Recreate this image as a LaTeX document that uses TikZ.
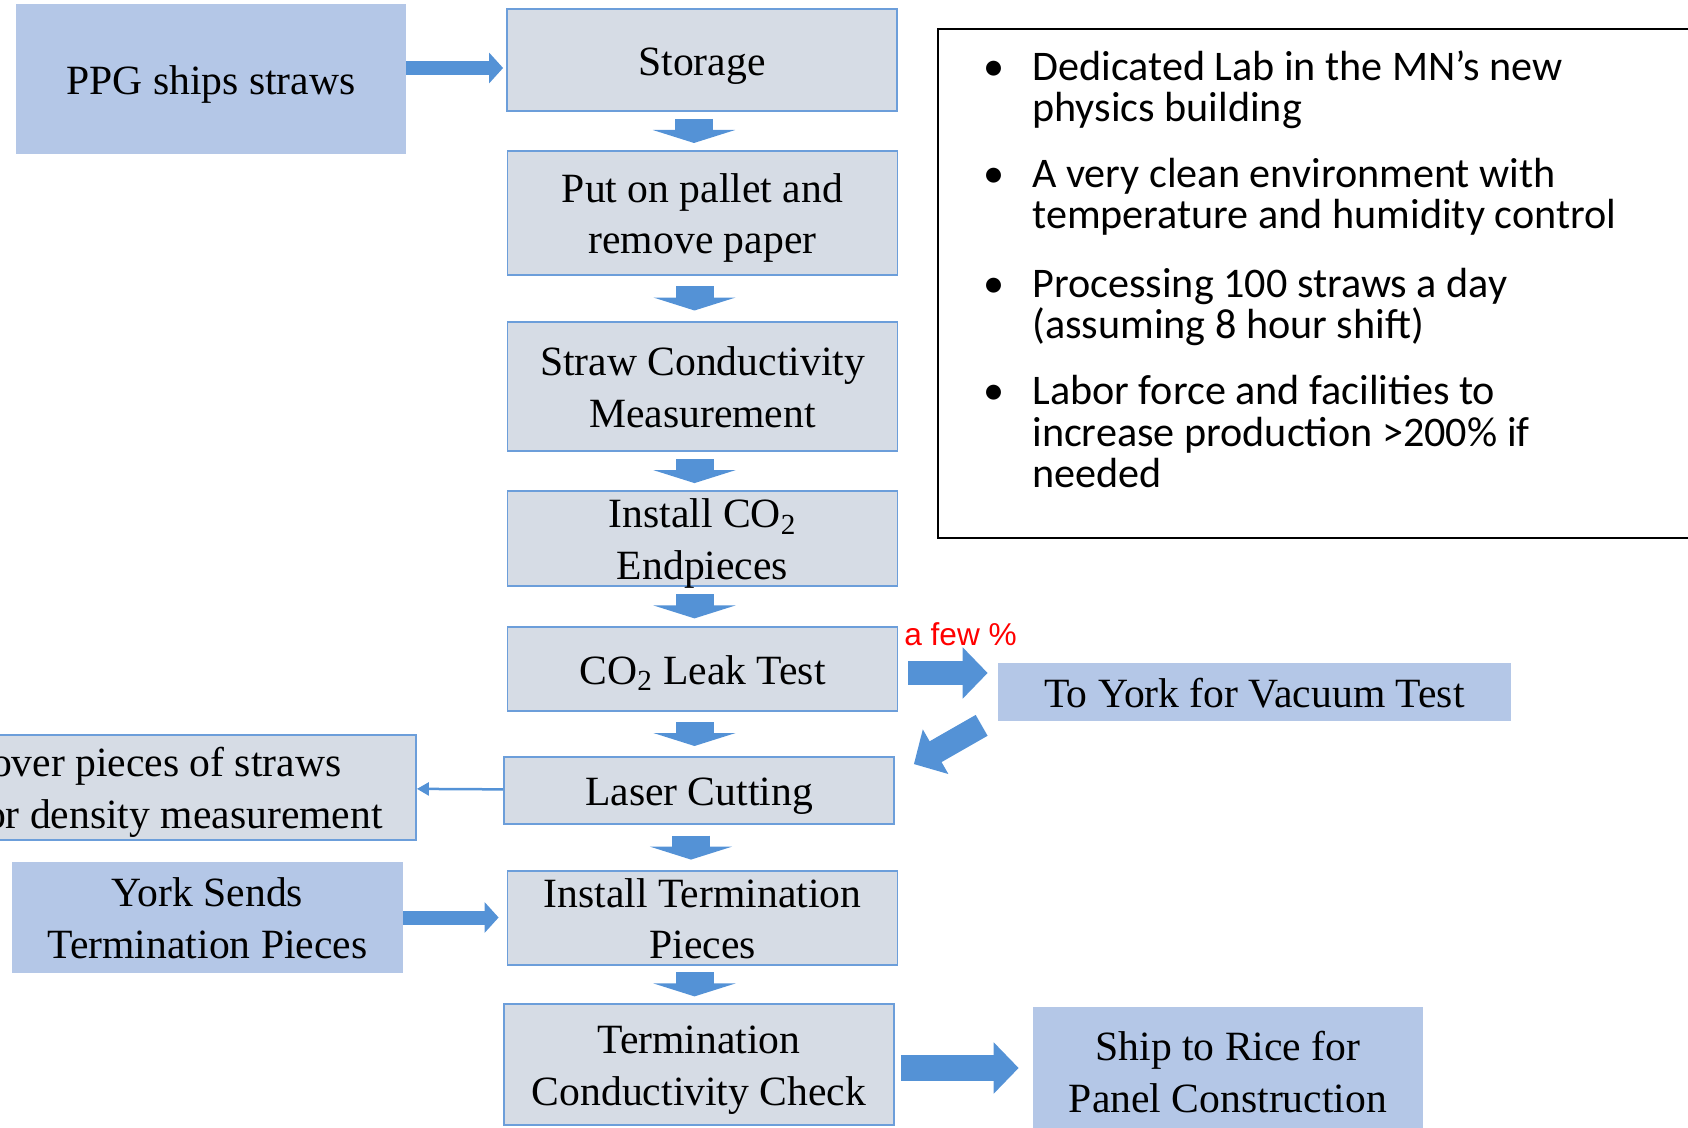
\documentclass[tikz,border=0pt]{standalone}
\usepackage{fontspec}
\setmainfont{Liberation Serif}
\newfontfamily\bulletfont{Carlito}
\newfontfamily\redfont{Liberation Sans}
\usetikzlibrary{positioning,calc,arrows.meta}
\newlength{\px}\setlength{\px}{0.02cm}
\definecolor{boxfill}{RGB}{214,220,229}
\definecolor{boxline}{RGB}{108,158,218}
\definecolor{sidefill}{RGB}{180,199,231}
\definecolor{arrblue}{RGB}{84,146,214}
\newcommand{\boxfont}{\fontsize{23.7}{29.4}\selectfont}
\newcommand{\ppstrut}{\rule[-0.216em]{0pt}{1.156em}}
\tikzset{stepbox/.style={draw=boxline, line width=1.8\px, fill=boxfill, minimum width=390\px, inner sep=0pt, align=center, font=\boxfont,
    execute at begin node=\ppstrut, execute at end node=\ppstrut}}
\tikzset{sidebox/.style={fill=sidefill, inner sep=0pt, align=center, font=\boxfont,
    execute at begin node=\ppstrut, execute at end node=\ppstrut}}
\tikzset{bulletitem/.style={anchor=base west, align=left, inner sep=0pt, font=\bulletfont\fontsize{24}{23.8}\selectfont}}
\tikzset{fewpct/.style={text=red, inner sep=0pt, font=\redfont\fontsize{18}{21}\selectfont}}
% arrow tips in cm (1px = 0.02cm)
\tikzset{downarr/.style={draw=arrblue, line width=38\px, -{Triangle[width=1.64cm,length=0.26cm]}}}
\tikzset{bigarr/.style={draw=arrblue, line width=24\px, -{Triangle[width=1.0cm,length=0.5cm]}}}
\tikzset{smallarr/.style={draw=arrblue, line width=14\px, -{Triangle[width=0.6cm,length=0.28cm]}}}
\tikzset{thinarr/.style={draw=arrblue, line width=2.5\px, -{Triangle[width=0.26cm,length=0.24cm]}}}

\begin{document}
\begin{tikzpicture}[x=0.02cm, y=-0.02cm]
    \useasboundingbox (0,0) rectangle (1688,1128);
    % main column
    \node[stepbox, minimum height=102\px] (storage) at (702,60) {Storage};
    \node[stepbox, minimum height=124\px] (pallet) at (702.5,213) {\ppstrut Put on pallet and\\remove paper};
    \node[stepbox, minimum height=129\px] (cond) at (702.5,386.5) {\ppstrut Straw Conductivity\\Measurement};
    \node[stepbox, inner ysep=-2.6\px] (endp) at (702.5,538.5) {\ppstrut Install CO\textsubscript{2}\\Endpieces};
    \node[stepbox, minimum height=84\px] (leak) at (702.5,669) {CO\textsubscript{2} Leak Test};
    \node[stepbox, minimum height=67\px] (laser) at (699,790.5) {Laser Cutting};
    \node[stepbox, inner ysep=-3.1\px] (term) at (702.5,918) {\ppstrut Install Termination\\Pieces};
    \node[stepbox, minimum height=121\px] (check) at (699,1064.5) {\ppstrut Termination\\Conductivity Check};
    % side boxes
    \node[sidebox, minimum width=390\px, minimum height=150\px] (ppg) at (211,79) {PPG ships straws};
    \node[sidebox, minimum width=513\px, minimum height=58\px] (york) at (1254.5,692) {To York for Vacuum Test};
    \node[stepbox, text width=417\px, align=flush left, inner xsep=29\px, minimum height=105\px] (leftover) at (178.5,787.5)
        {\ppstrut\hspace*{21\px}over pieces of straws\\\hspace*{15\px}or density measurement};
    \node[sidebox, minimum width=391\px, minimum height=111\px] (sends) at (207.5,917.5) {\ppstrut York Sends\\Termination Pieces};
    \node[sidebox, minimum width=390\px, minimum height=129\px] (ship) at (1228,1071.5) {\ppstrut Ship to Rice for\\Panel Construction};
    % notes (base = last line)
    \draw[line width=1.3\px] (938,29) rectangle (1700,538);
    \node[bulletitem] (b1) at (1032,122) {\llap{•\hspace{28\px}}Dedicated Lab in the MN’s new\\physics building};
    \node[bulletitem] (b2) at (1032,229) {\llap{•\hspace{28\px}}A very clean environment with\\temperature and humidity control};
    \node[bulletitem] (b3) at (1032,339) {\llap{•\hspace{28\px}}Processing 100 straws a day\\(assuming 8 hour shift)};
    \node[bulletitem] (b4) at (1032,488) {\llap{•\hspace{28\px}}Labor force and facilities to\\increase production >200\% if\\needed};
    % arrows
    \foreach \a/\b in {storage/pallet, pallet/cond, cond/endp, endp/leak, leak/laser, laser/term, term/check}
        \draw[downarr] ($(\a.south)!.5!(\a.south |- \b.north) + (-8,-12)$) -- ++(0,24);
    \draw[smallarr, shorten >=3\px] ([yshift=11\px]ppg.east) -- ([yshift=11\px]ppg.east -| storage.west);
    \draw[smallarr, shorten >=8\px] (sends.east) -- (sends.east -| term.west);
    \draw[bigarr, shorten <=10\px, shorten >=10\px] ([yshift=-4\px]leak.east) --
        node[fewpct, above=15\px, xshift=12.5\px] {a few \%} ([yshift=-4\px]leak.east -| york.west);
    \draw[bigarr] ([xshift=-16\px,yshift=-4\px]york.south west) -- ([xshift=19\px,yshift=-8\px]laser.north east);
    \draw[thinarr] (laser) -- (leftover);
    \draw[bigarr, line width=26\px, shorten <=6\px, shorten >=14\px] ([yshift=-3.5\px]check.east) -- ([yshift=-3.5\px]check.east -| ship.west);
\end{tikzpicture}
\end{document}
